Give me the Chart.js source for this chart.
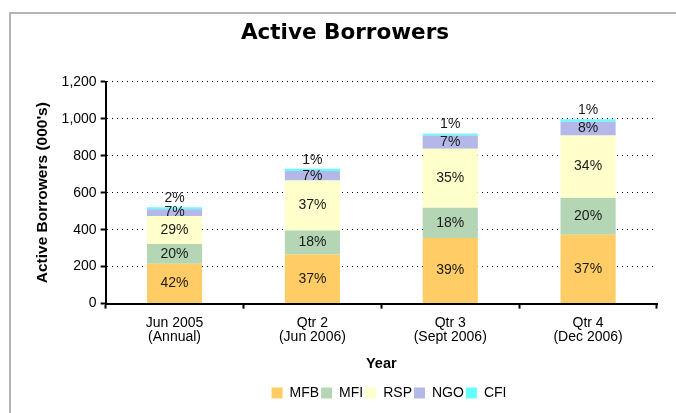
<!DOCTYPE html>
<html lang="en">
  <head>
    <meta charset="UTF-8" />
    <title>Active Borrowers</title>
    <script src="https://cdn.jsdelivr.net/npm/chart.js"></script>
    <style>
      body {
        margin: 0;
        background: #fff;
      }
      .wrap {
        position: relative;
        width: 676px;
        height: 413px;
        overflow: hidden;
      }
      /* grey frame of the original worksheet chart */
      .frame {
        position: absolute;
        left: 9px;
        top: 12px;
        width: 720px;
        height: 450px;
        border-left: 2px solid #b4b4b4;
        border-top: 2px solid #b4b4b4;
      }
      canvas {
        position: absolute;
        left: 0;
        top: 0;
      }
    </style>
  </head>
  <body>
    <div class="wrap">
      <div class="frame"></div>
      <canvas id="borrowersChart" width="676" height="413"></canvas>
    </div>

    <script>
      // values in 000's
      const periods = [
        ["Jun 2005", "(Annual)"],
        ["Qtr 2", "(Jun 2006)"],
        ["Qtr 3", "(Sept 2006)"],
        ["Qtr 4", "(Dec 2006)"]
      ];
      const mfb = [215, 266, 355, 372];
      const mfi = [107, 130, 163, 200];
      const rsp = [152, 270, 320, 338];
      const ngo = [37, 52, 72, 74];
      const cfi = [10, 12, 10, 14];

      // percentage labels as printed on the bars
      const mfbPct = ["42%", "37%", "39%", "37%"];
      const mfiPct = ["20%", "18%", "18%", "20%"];
      const rspPct = ["29%", "37%", "35%", "34%"];
      const ngoPct = ["7%", "7%", "7%", "8%"];
      const cfiPct = ["2%", "1%", "1%", "1%"];

      const yTicks = { min: 0, max: 1200, step: 200 };

      const font = "'Liberation Sans', Arial, sans-serif";

      // writes the share of each segment on the bars
      const pctLabels = {
        id: "pctLabels",
        afterDatasetsDraw(chart) {
          const ctx = chart.ctx;
          const sets = [mfbPct, mfiPct, rspPct, ngoPct, cfiPct];
          ctx.save();
          ctx.font = "14px " + font;
          ctx.fillStyle = "#1a1a1a";
          ctx.textAlign = "center";
          ctx.textBaseline = "middle";
          chart.data.datasets.forEach((ds, i) => {
            chart.getDatasetMeta(i).data.forEach((bar, j) => {
              const y = i === 4 ? bar.y - 9 : (bar.y + bar.base) / 2;
              ctx.fillText(sets[i][j], bar.x, y);
            });
          });
          ctx.restore();
        }
      };

      // legend sits a little right of the canvas centre in the original
      const legendShift = {
        id: "legendShift",
        afterLayout(chart) {
          chart.legend.left += 44;
          chart.legend.right += 44;
        }
      };

      new Chart(document.getElementById("borrowersChart"), {
        type: "bar",
        data: {
          labels: periods,
          datasets: [
            { label: "MFB", data: mfb, backgroundColor: "#ffcc66" },
            { label: "MFI", data: mfi, backgroundColor: "#b4d6b4" },
            { label: "RSP", data: rsp, backgroundColor: "#ffffcc" },
            { label: "NGO", data: ngo, backgroundColor: "#b4b8e8" },
            { label: "CFI", data: cfi, backgroundColor: "#66ffff" }
          ]
        },
        options: {
          responsive: false,
          animation: false,
          layout: { padding: { left: 33, right: 19, top: 0, bottom: 3 } },
          datasets: { bar: { barPercentage: 0.8, categoryPercentage: 0.5 } },
          plugins: {
            title: {
              display: true,
              text: "Active Borrowers",
              color: "#000",
              font: { family: "'DejaVu Sans', Verdana, sans-serif", size: 21.5, weight: "bold" },
              padding: { top: 21, bottom: 35 }
            },
            legend: {
              position: "bottom",
              labels: {
                boxWidth: 11,
                boxHeight: 11,
                padding: 2,
                color: "#000",
                font: { family: font, size: 14 }
              }
            },
            tooltip: { enabled: false }
          },
          scales: {
            x: {
              stacked: true,
              offset: true,
              grid: {
                offset: true,
                drawOnChartArea: false,
                tickColor: "#000",
                tickWidth: 2,
                tickLength: 5
              },
              border: { color: "#000", width: 2 },
              ticks: {
                color: "#000",
                padding: 8,
                font: { family: font, size: 14, lineHeight: 1.0 }
              },
              title: {
                display: true,
                text: "Year",
                color: "#000",
                font: { family: font, size: 14.5, weight: "bold" },
                padding: { top: 3, bottom: 11 }
              }
            },
            y: {
              stacked: true,
              min: yTicks.min,
              max: yTicks.max,
              grid: {
                color: "#000",
                lineWidth: 1,
                tickColor: "#000",
                tickWidth: 2,
                tickLength: 5,
                tickBorderDash: []
              },
              border: { color: "#000", width: 2, dash: [1, 4] },
              ticks: {
                stepSize: yTicks.step,
                color: "#000",
                padding: 4,
                font: { family: font, size: 14 }
              },
              title: {
                display: true,
                text: "Active Borrowers (000's)",
                color: "#000",
                font: { family: font, size: 15.5, weight: "bold" },
                padding: { top: 0, bottom: 6 }
              }
            }
          }
        },
        plugins: [pctLabels, legendShift]
      });
    </script>
  </body>
</html>
